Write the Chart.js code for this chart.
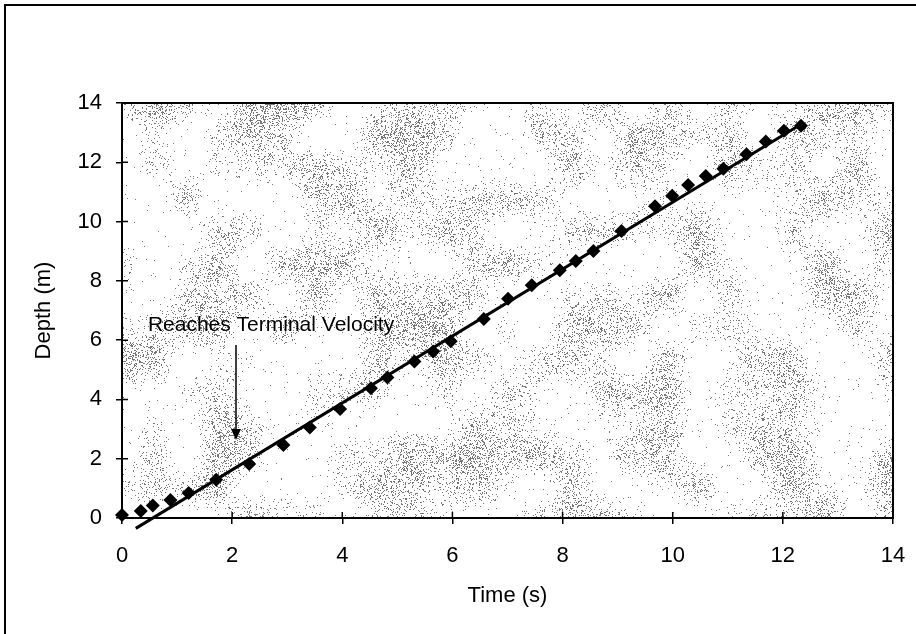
<!DOCTYPE html>
<html>
<head>
<meta charset="utf-8">
<script src="https://cdn.jsdelivr.net/npm/chart.js@4/dist/chart.umd.min.js"></script>
<style>
html, body { margin: 0; padding: 0; background: #fff; overflow: hidden; }
#frame { position: absolute; left: 4px; top: 4px; width: 980px; height: 720px; border: 2px solid #000; }
#wrap { position: absolute; left: 0; top: 0; width: 916px; height: 634px; }
</style>
</head>
<body>
<div id="frame"></div>
<div id="wrap"><canvas id="depthChart" width="916" height="634"></canvas></div>
<script>
// valores
const timeValues  = [0, 0.34, 0.56, 0.88, 1.21, 1.71, 2.31, 2.93, 3.41, 3.96, 4.52, 4.82, 5.31, 5.65, 5.97,
                     6.57, 7.01, 7.44, 7.95, 8.24, 8.56, 9.07, 9.68, 9.99, 10.28, 10.6, 10.92, 11.34, 11.69, 12.02, 12.33];
const depthValues = [0.1, 0.24, 0.42, 0.61, 0.84, 1.29, 1.82, 2.46, 3.05, 3.68, 4.38, 4.74, 5.28, 5.62, 5.96,
                     6.71, 7.4, 7.85, 8.36, 8.67, 9.01, 9.68, 10.52, 10.87, 11.23, 11.54, 11.78, 12.27, 12.7, 13.06, 13.23];
const trendTime  = [0.25, 12.3];
const trendDepth = [-0.35, 13.25];
const xTicks = [0, 2, 4, 6, 8, 10, 12, 14];
const yTicks = [0, 2, 4, 6, 8, 10, 12, 14];
const noteText = 'Reaches Terminal Velocity';
const notePos = [0.47, 6.51];      // início do texto (tempo, profundidade)
const arrowTime = 2.07;
const arrowDepth = [5.84, 2.63];   // de / até

const family = '"Liberation Sans", Arial, sans-serif';
const tickFont = { family: family, size: 22 };
const titleFont = { family: family, size: 22 };
const noteSize = 21;

// textura pontilhada do fundo (determinística)
function speckle(w, h) {
    const c = document.createElement('canvas');
    c.width = w; c.height = h;
    const g = c.getContext('2d');
    const img = g.createImageData(w, h);
    let seed = 20240601;
    const rnd = () => (seed = (seed * 1664525 + 1013904223) >>> 0) / 4294967296;
    const cell = 32;
    const gw = Math.ceil(w / cell) + 2, gh = Math.ceil(h / cell) + 2;
    const dens = [];
    for (let i = 0; i < gw * gh; i++) dens.push(rnd());
    for (let y = 0; y < h; y++) {
        for (let x = 0; x < w; x++) {
            const cx = x / cell, cy = y / cell;
            const ix = Math.floor(cx), iy = Math.floor(cy);
            const fx = cx - ix, fy = cy - iy;
            const a = dens[iy * gw + ix], b = dens[iy * gw + ix + 1];
            const c2 = dens[(iy + 1) * gw + ix], d = dens[(iy + 1) * gw + ix + 1];
            const v = (a * (1 - fx) + b * fx) * (1 - fy) + (c2 * (1 - fx) + d * fx) * fy;
            const p = 0.006 + Math.pow(Math.max(0, v - 0.33), 1.3) * 0.55;
            const k = (y * w + x) * 4;
            const col = rnd() < p ? 120 : 255;
            img.data[k] = col; img.data[k + 1] = col; img.data[k + 2] = col; img.data[k + 3] = 255;
        }
    }
    g.putImageData(img, 0, 0);
    return c;
}

const plotDecor = {
    id: 'plotDecor',
    beforeDatasetsDraw(chart) {
        const { ctx, chartArea: a, scales } = chart;
        ctx.save();
        ctx.drawImage(speckle(Math.round(a.right - a.left), Math.round(a.bottom - a.top)), a.left, a.top);
        ctx.strokeStyle = '#000';
        ctx.lineWidth = 2;
        ctx.strokeRect(a.left, a.top, a.right - a.left, a.bottom - a.top);
        // marcas internas dos ticks
        ctx.lineWidth = 1.5;
        ctx.beginPath();
        xTicks.forEach(v => {
            const px = scales.x.getPixelForValue(v);
            ctx.moveTo(px, a.bottom); ctx.lineTo(px, a.bottom - 6);
        });
        yTicks.forEach(v => {
            const py = scales.y.getPixelForValue(v);
            ctx.moveTo(a.left, py); ctx.lineTo(a.left + 6, py);
        });
        ctx.stroke();
        ctx.restore();
    },
    afterDraw(chart) {
        const { ctx, scales } = chart;
        ctx.save();
        ctx.fillStyle = '#000';
        ctx.font = noteSize + 'px ' + family;
        ctx.textBaseline = 'middle';
        ctx.fillText(noteText, scales.x.getPixelForValue(notePos[0]), scales.y.getPixelForValue(notePos[1]));
        const ax = scales.x.getPixelForValue(arrowTime);
        const y0 = scales.y.getPixelForValue(arrowDepth[0]);
        const y1 = scales.y.getPixelForValue(arrowDepth[1]);
        ctx.strokeStyle = '#000';
        ctx.lineWidth = 1.5;
        ctx.beginPath();
        ctx.moveTo(ax, y0); ctx.lineTo(ax, y1 - 8);
        ctx.stroke();
        ctx.beginPath();
        ctx.moveTo(ax - 5, y1 - 11); ctx.lineTo(ax + 5, y1 - 11); ctx.lineTo(ax, y1);
        ctx.closePath();
        ctx.fill();
        ctx.restore();
    }
};

const ctx = document.getElementById('depthChart').getContext('2d');
new Chart(ctx, {
    type: 'scatter',
    data: {
        datasets: [
            {
                label: 'Depth',
                data: timeValues.map((t, i) => ({ x: t, y: depthValues[i] })),
                pointStyle: 'rectRot',
                pointRadius: 7,
                backgroundColor: '#000',
                borderColor: '#000',
                borderWidth: 0,
                clip: false,
                order: 1
            },
            {
                type: 'line',
                label: 'Trend',
                data: trendTime.map((t, i) => ({ x: t, y: trendDepth[i] })),
                borderColor: '#000',
                borderWidth: 3,
                pointRadius: 0,
                clip: false,
                order: 2
            }
        ]
    },
    options: {
        responsive: false,
        animation: false,
        devicePixelRatio: 1,
        layout: { padding: { top: 103, right: 23, bottom: 0, left: 0 } },
        plugins: { legend: { display: false }, tooltip: { enabled: false } },
        scales: {
            x: {
                type: 'linear',
                min: 0,
                max: 14,
                afterBuildTicks: s => { s.ticks = xTicks.map(v => ({ value: v })); },
                afterFit: s => { s.height = 116; s.paddingLeft = 0; s.paddingRight = 0; },
                grid: { drawOnChartArea: false, tickLength: 6, color: '#000', lineWidth: 1.5 },
                border: { display: false },
                ticks: { font: tickFont, color: '#000', padding: 19, maxRotation: 0 },
                title: { display: true, text: 'Time (s)', font: titleFont, color: '#000', padding: { top: 0, bottom: 25 } }
            },
            y: {
                type: 'linear',
                min: 0,
                max: 14,
                afterBuildTicks: s => { s.ticks = yTicks.map(v => ({ value: v })); },
                afterFit: s => { s.width = 122; s.paddingTop = 0; s.paddingBottom = 0; },
                grid: { drawOnChartArea: false, tickLength: 6, color: '#000', lineWidth: 1.5 },
                border: { display: false },
                ticks: { font: tickFont, color: '#000', padding: 14 },
                title: { display: true, text: 'Depth (m)', font: titleFont, color: '#000', padding: { top: 31, bottom: 0 } }
            }
        }
    },
    plugins: [plotDecor]
});
</script>
</body>
</html>
